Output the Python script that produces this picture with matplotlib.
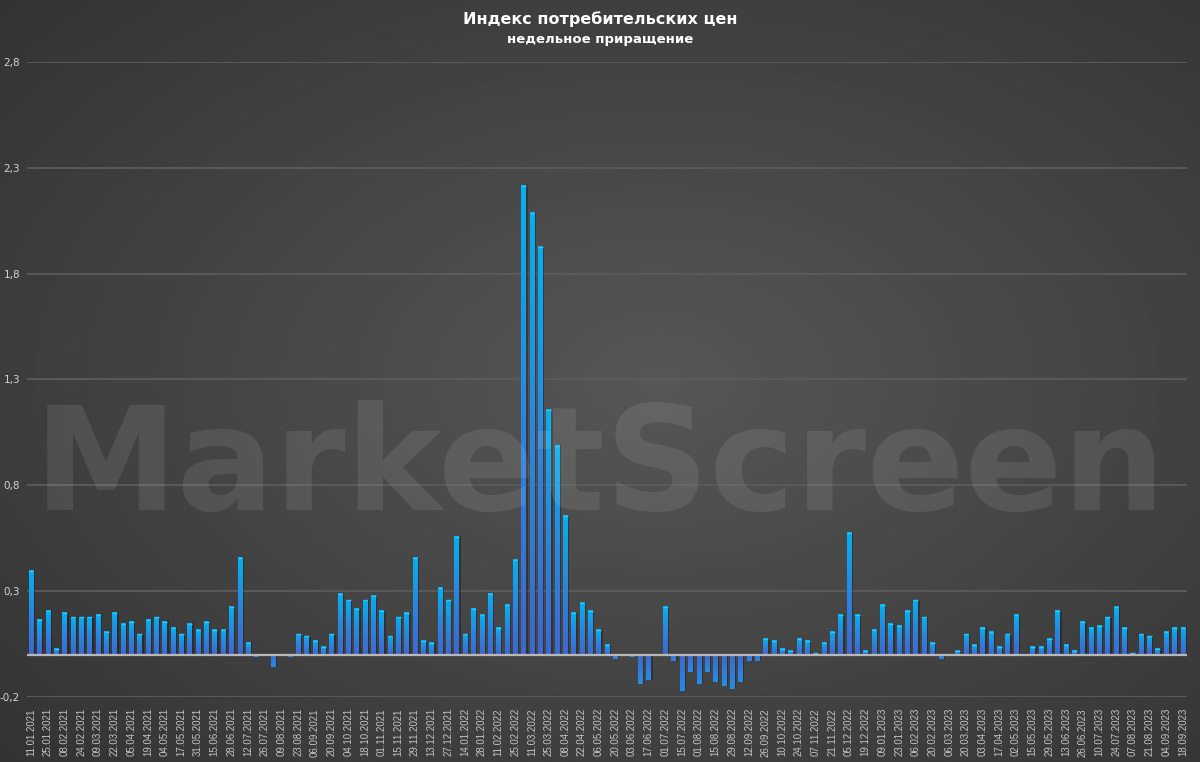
import numpy as np
import matplotlib
matplotlib.use("Agg")
import matplotlib.pyplot as plt
from matplotlib.colors import LinearSegmentedColormap

# weekly CPI increment, %
values = [0.40, 0.17, 0.21, 0.03, 0.20, 0.18, 0.18, 0.18, 0.19, 0.11,
          0.20, 0.15, 0.16, 0.10, 0.17, 0.18, 0.16, 0.13, 0.10, 0.15,
          0.12, 0.16, 0.12, 0.12, 0.23, 0.46, 0.06, -0.01, 0.00, -0.06,
          0.00, -0.01, 0.10, 0.09, 0.07, 0.04, 0.10, 0.29, 0.26, 0.22,
          0.26, 0.28, 0.21, 0.09, 0.18, 0.20, 0.46, 0.07, 0.06, 0.32,
          0.26, 0.56, 0.10, 0.22, 0.19, 0.29, 0.13, 0.24, 0.45, 2.22,
          2.09, 1.93, 1.16, 0.99, 0.66, 0.20, 0.25, 0.21, 0.12, 0.05,
          -0.02, 0.00, -0.01, -0.14, -0.12, 0.00, 0.23, -0.03, -0.17, -0.08,
          -0.14, -0.08, -0.13, -0.15, -0.16, -0.13, -0.03, -0.03, 0.08, 0.07,
          0.03, 0.02, 0.08, 0.07, 0.01, 0.06, 0.11, 0.19, 0.58, 0.19,
          0.02, 0.12, 0.24, 0.15, 0.14, 0.21, 0.26, 0.18, 0.06, -0.02,
          0.00, 0.02, 0.10, 0.05, 0.13, 0.11, 0.04, 0.10, 0.19, 0.00,
          0.04, 0.04, 0.08, 0.21, 0.05, 0.02, 0.16, 0.13, 0.14, 0.18,
          0.23, 0.13, 0.01, 0.10, 0.09, 0.03, 0.11, 0.13, 0.13]

# every second week is labelled
tick_labels = ["11.01.2021", "25.01.2021", "08.02.2021", "24.02.2021", "09.03.2021",
               "22.03.2021", "05.04.2021", "19.04.2021", "04.05.2021", "17.05.2021",
               "31.05.2021", "15.06.2021", "28.06.2021", "12.07.2021", "26.07.2021",
               "09.08.2021", "23.08.2021", "06.09.2021", "20.09.2021", "04.10.2021",
               "18.10.2021", "01.11.2021", "15.11.2021", "29.11.2021", "13.12.2021",
               "27.12.2021", "14.01.2022", "28.01.2022", "11.02.2022", "25.02.2022",
               "11.03.2022", "25.03.2022", "08.04.2022", "22.04.2022", "06.05.2022",
               "20.05.2022", "03.06.2022", "17.06.2022", "01.07.2022", "15.07.2022",
               "01.08.2022", "15.08.2022", "29.08.2022", "12.09.2022", "26.09.2022",
               "10.10.2022", "24.10.2022", "07.11.2022", "21.11.2022", "05.12.2022",
               "19.12.2022", "09.01.2023", "23.01.2023", "06.02.2023", "20.02.2023",
               "06.03.2023", "20.03.2023", "03.04.2023", "17.04.2023", "02.05.2023",
               "15.05.2023", "29.05.2023", "13.06.2023", "26.06.2023", "10.07.2023",
               "24.07.2023", "07.08.2023", "21.08.2023", "04.09.2023", "18.09.2023"]

y_ticks = [-0.2, 0.3, 0.8, 1.3, 1.8, 2.3, 2.8]

fig = plt.figure(figsize=(12, 7.62), dpi=100)

# dark radial background
bg = fig.add_axes([0, 0, 1, 1], zorder=-10)
yy, xx = np.mgrid[0:1:300j, 0:1:400j]
r = np.sqrt(((xx - 0.55) / 0.8) ** 2 + ((yy - 0.5) / 0.8) ** 2)
shade = np.clip(0.34 - 0.15 * r, 0, 1)
bg.imshow(shade, cmap="gray", vmin=0, vmax=1, extent=[0, 1, 0, 1], aspect="auto")
bg.axis("off")

ax = fig.add_axes([27 / 1200, 1 - 697 / 762, 1160 / 1200, 635 / 762])
ax.patch.set_alpha(0)

n = len(values)
x = np.arange(n)
w = 0.55
cmap = LinearSegmentedColormap.from_list("barg", ["#3c68cf", "#2a86e0", "#04b0f0"])
grad = np.linspace(0, 1, 64).reshape(-1, 1)

# shadows
ax.bar(x + 0.15, values, width=w + 0.1, color="black", alpha=0.28, zorder=1)
bars = ax.bar(x, values, width=w, color="#2a86e0", zorder=2)
for b, v in zip(bars, values):
    if v == 0:
        continue
    x0 = b.get_x()
    if v > 0:
        im = ax.imshow(grad, cmap=cmap, origin="lower", aspect="auto",
                       extent=[x0, x0 + w, 0, v], zorder=2.1)
    else:
        im = ax.imshow(grad[::-1] * 0.6, cmap=cmap, vmin=0, vmax=1, origin="lower",
                       aspect="auto", extent=[x0, x0 + w, v, 0], zorder=2.1)
    im.set_clip_path(b)
    if v > 0:
        ax.plot([x0, x0 + w], [v - 0.004, v - 0.004], color="#2cc4ff", lw=1, zorder=2.2,
                solid_capstyle="butt")

ax.set_xlim(-0.5, n - 0.5)
ax.set_ylim(-0.2, 2.8)

for t in y_ticks:
    ax.axhline(t, color="#5c5c5c", lw=1.3, zorder=0.5)
ax.axhline(0, color="#b8b8b8", lw=1.6, zorder=3)

ax.set_yticks(y_ticks)
ax.set_yticklabels([f"{t:.1f}".replace(".", ",") for t in y_ticks],
                   color="#d2d2d2", fontsize=7.5)
ax.set_xticks(x[::2])
ax.set_xticklabels(tick_labels, rotation=90, color="#c4c4c4", fontsize=7,
                   family="Liberation Sans")
ax.tick_params(length=0)
ax.tick_params(axis="y", pad=5)
ax.tick_params(axis="x", pad=8)
for s in ax.spines.values():
    s.set_visible(False)

# watermark
fig.text(0.5, 1 - 510 / 762, "MarketScreen", ha="center", va="baseline",
         fontsize=104, family="DejaVu Sans", fontweight="bold", color="white",
         alpha=0.09, zorder=20)

fig.text(0.5, 1 - 19 / 762, "Индекс потребительских цен", ha="center", va="center",
         color="white", fontsize=11.5, fontweight="bold")
fig.text(0.5, 1 - 39 / 762, "недельное приращение", ha="center", va="center",
         color="white", fontsize=9.5, fontweight="bold")

fig.savefig("out.png", dpi=100)
